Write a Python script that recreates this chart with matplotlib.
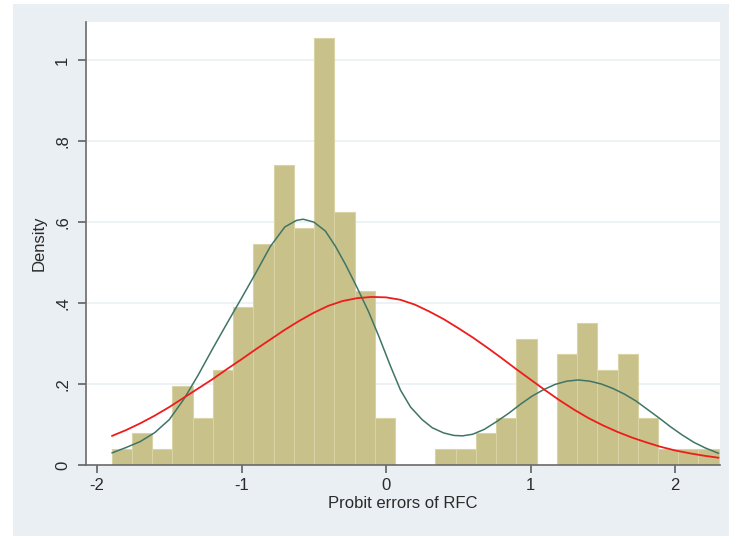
import matplotlib.pyplot as plt
import numpy as np
from matplotlib.patches import Rectangle

plt.rcParams['font.family'] = ['Liberation Sans', 'DejaVu Sans']

# histogram: 30 bins of width 0.14 starting at -1.898
bin_start = -1.898
bin_width = 0.14
counts = [1, 2, 1, 5, 3, 6, 10, 14, 19, 15, 27, 16, 11, 3, 0,
          0, 1, 1, 2, 3, 8, 0, 7, 9, 6, 7, 3, 1, 1, 1]

# kernel density (green)
kd_x = [-1.895, -1.80, -1.70, -1.60, -1.50, -1.40, -1.30, -1.20, -1.10, -1.00,
        -0.90, -0.80, -0.70, -0.62, -0.573, -0.50, -0.42, -0.35, -0.28, -0.20,
        -0.12, -0.05, 0.03, 0.10, 0.17, 0.25, 0.32, 0.40, 0.47, 0.53,
        0.60, 0.68, 0.76, 0.85, 0.93, 1.01, 1.09, 1.17, 1.25, 1.33,
        1.41, 1.49, 1.57, 1.65, 1.73, 1.81, 1.89, 1.97, 2.05, 2.13,
        2.21, 2.30]
kd_y = [0.030, 0.043, 0.058, 0.080, 0.112, 0.162, 0.222, 0.287, 0.350, 0.412,
        0.475, 0.540, 0.588, 0.604, 0.607, 0.600, 0.578, 0.540, 0.495, 0.438,
        0.378, 0.318, 0.245, 0.185, 0.143, 0.112, 0.092, 0.079, 0.073, 0.072,
        0.076, 0.088, 0.106, 0.128, 0.150, 0.170, 0.186, 0.199, 0.207, 0.210,
        0.207, 0.200, 0.189, 0.175, 0.158, 0.137, 0.116, 0.094, 0.074, 0.056,
        0.042, 0.029]

# normal density (red)
nd_x = [-1.895, -1.80, -1.70, -1.60, -1.50, -1.40, -1.30, -1.20, -1.10, -1.00,
        -0.90, -0.80, -0.70, -0.60, -0.50, -0.40, -0.30, -0.20, -0.10, 0.00,
        0.10, 0.20, 0.30, 0.40, 0.50, 0.60, 0.70, 0.80, 0.90, 1.00,
        1.10, 1.20, 1.30, 1.40, 1.50, 1.60, 1.70, 1.80, 1.90, 2.00,
        2.10, 2.20, 2.30]
nd_y = [0.072, 0.086, 0.103, 0.122, 0.143, 0.166, 0.189, 0.212, 0.237, 0.261,
        0.286, 0.310, 0.334, 0.356, 0.376, 0.393, 0.405, 0.412, 0.415, 0.414,
        0.408, 0.396, 0.379, 0.360, 0.338, 0.315, 0.290, 0.264, 0.237, 0.211,
        0.185, 0.160, 0.137, 0.116, 0.098, 0.082, 0.068, 0.056, 0.045, 0.036,
        0.029, 0.023, 0.018]

xticks = [-2, -1, 0, 1, 2]
yticks = [0, 0.2, 0.4, 0.6, 0.8, 1.0]
ytick_labels = ['0', '.2', '.4', '.6', '.8', '1']

bg = '#E9EFF2'
fig = plt.figure(figsize=(7.29, 5.36), dpi=100, facecolor='white')
fig.patches.append(Rectangle((13 / 729, 0), 1, 532 / 536, transform=fig.transFigure,
                             facecolor=bg, edgecolor='none', zorder=-5))
ax = fig.add_axes([86 / 729, 71 / 536, 634 / 729, 443 / 536])
ax.set_facecolor('white')

n = sum(counts)
dens = np.array(counts) / (n * bin_width)
lefts = bin_start + bin_width * np.arange(len(counts))
ax.bar(lefts, dens, width=bin_width, align='edge', color='#C9C18A',
       edgecolor='#D9D3A6', linewidth=0.8, zorder=2)

ax.plot(kd_x, kd_y, color='#3F7566', lw=1.1, zorder=3)
ax.plot(nd_x, nd_y, color='#EE1C1C', lw=1.3, zorder=4)

ax.set_xlim(-2.076, 2.311)
ax.set_ylim(0, 1.094)
ax.set_xticks(xticks)
ax.set_xticklabels([str(t) for t in xticks])
ax.set_yticks(yticks)
ax.set_yticklabels(ytick_labels, rotation=90, va='center')

for y in yticks[1:]:
    ax.axhline(y, color='#EAF0F2', lw=1.2, zorder=1)

for s in ['top', 'right']:
    ax.spines[s].set_visible(False)
for s in ['left', 'bottom']:
    ax.spines[s].set_color('#6A6A6A')
    ax.spines[s].set_linewidth(1.2)

ax.tick_params(axis='both', direction='out', length=5.5, width=1.1,
               color='#555555', labelsize=12, labelcolor='#2A2A2A')
ax.tick_params(axis='x', pad=4)
ax.tick_params(axis='y', pad=6)

ax.set_xlabel('Probit errors of RFC', fontsize=12, color='#2A2A2A', labelpad=2)
ax.set_ylabel('Density', fontsize=12, color='#2A2A2A', labelpad=6)

fig.savefig('out.png', dpi=100, facecolor=fig.get_facecolor())
